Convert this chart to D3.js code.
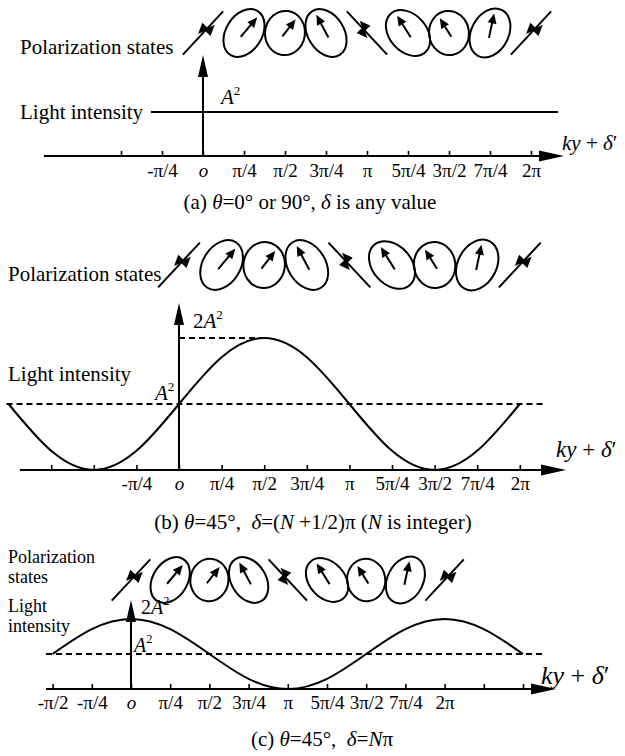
<!DOCTYPE html>
<html>
<head>
<meta charset="utf-8">
<script src="https://cdn.jsdelivr.net/npm/d3@7"></script>
<style>
body { margin: 0; background: #fff; }
text { font-family: "Liberation Serif", "Times New Roman", serif; fill: #000; white-space: pre; }
</style>
</head>
<body>
<div id="chart"></div>
<script>
// phases are in units of pi/4, intensities in units of A^2
var tickPhasesA = [-2, -1, 0, 1, 2, 3, 4, 5, 6, 7, 8];
var tickLabelsA = ["", "-π/4", "o", "π/4", "π/2", "3π/4", "π", "5π/4", "3π/2", "7π/4", "2π"];
var tickPhasesB = [-3, -2, -1, 0, 1, 2, 3, 4, 5, 6, 7, 8];
var tickLabelsB = ["", "", "-π/4", "o", "π/4", "π/2", "3π/4", "π", "5π/4", "3π/2", "7π/4", "2π"];
var tickPhasesC = [-2, -1, 0, 1, 2, 3, 4, 5, 6, 7, 8, 9, 10];
var tickLabelsC = ["-π/2", "-π/4", "o", "π/4", "π/2", "3π/4", "π", "5π/4", "3π/2", "7π/4", "2π", "", ""];

// (a) flat intensity
var flatPhasesA = [-1.27, 8.66];
var flatValuesA = [1, 1];
// (b) intensity
var curvePhasesB = [-4, -3, -2, -1, 0, 1, 2, 3, 4, 5, 6, 7, 8];
var curveValuesB = [1, 0.29, 0, 0.29, 1, 1.71, 2, 1.71, 1, 0.29, 0, 0.29, 1];
var refPhasesB = [-4.05, 8.6];
// (c)
var curvePhasesC = [-2, -1, 0, 1, 2, 3, 4, 5, 6, 7, 8, 9, 10];
var curveValuesC = [1, 1.71, 2, 1.71, 1, 0.29, 0, 0.29, 1, 1.71, 2, 1.71, 1];
var refPhasesC = [-2.17, 10.5];

// polarization states drawn above each panel
var statePhases = [0, 1, 2, 3, 4, 5, 6, 7, 8];
var stateKinds  = ["lin", "ell", "ell", "ell", "lin", "ell", "ell", "ell", "lin"];
var stateTilts  = [47, 58, 82, 122, 133, 132, 98, 62, 47];   // degrees, major axis
var stateRatios = [0, 0.7, 0.9, 0.7, 0, 0.72, 0.9, 0.72, 0];
var stateArrows = [0, 50, 52, 118, 0, 122, 122, 78, 0];      // degrees

var W = 625, H = 756;
var svg = d3.select("#chart").append("svg")
  .attr("width", W).attr("height", H);
svg.append("rect").attr("width", W).attr("height", H).attr("fill", "#fff");

function head(g, x, y, ang, len, half) {
  var c = Math.cos(ang), s = Math.sin(ang);
  var bx = x - len * c, by = y - len * s;
  g.append("path")
    .attr("d", "M" + x + "," + y + "L" + (bx - half * s) + "," + (by + half * c) +
      "L" + (bx + half * s) + "," + (by - half * c) + "Z")
    .attr("fill", "#000");
}

// parts: [text, italic, sup]
function rich(g, x, y, parts, size, anchor) {
  var t = g.append("text").attr("x", x).attr("y", y)
    .style("font-size", size + "px")
    .attr("text-anchor", anchor || "start");
  parts.forEach(function(p) {
    var ts = t.append("tspan").text(p[0]);
    if (p[1]) ts.style("font-style", "italic");
    if (p[2]) ts.attr("dy", -0.45 * size).style("font-size", (size * 0.62) + "px");
  });
  return t;
}

function drawStates(g, x, cy, step) {
  statePhases.forEach(function(p, i) {
    var cx = x(p);
    var tilt = stateTilts[i] * Math.PI / 180;
    if (stateKinds[i] == "lin") {
      var L = step * 0.72;
      var dx = Math.cos(tilt), dy = -Math.sin(tilt);
      g.append("line")
        .attr("x1", cx - L * dx).attr("y1", cy - L * dy)
        .attr("x2", cx + L * dx).attr("y2", cy + L * dy)
        .attr("stroke", "#000").attr("stroke-width", 2);
      var ang = Math.atan2(dy, dx);
      var px = -dy, py = dx;
      head(g, cx + 14 * dx + 3 * px, cy + 14 * dy + 3 * py, ang, 11, 4.5);
      head(g, cx - 4 * dx - 3 * px, cy - 4 * dy - 3 * py, ang + Math.PI, 11, 4.5);
    } else {
      var r = stateRatios[i];
      var a = step * (r > 0.8 ? 0.54 : 0.63), b = a * r;
      g.append("ellipse")
        .attr("rx", a).attr("ry", b)
        .attr("transform", "translate(" + cx + "," + cy + ") rotate(" + (-stateTilts[i]) + ")")
        .attr("fill", "none").attr("stroke", "#000").attr("stroke-width", 2);
      var th = stateArrows[i] * Math.PI / 180;
      var phi = th - tilt;
      var rb = a * b / Math.sqrt(Math.pow(b * Math.cos(phi), 2) + Math.pow(a * Math.sin(phi), 2));
      var ux = Math.cos(th), uy = -Math.sin(th);
      var tx = cx + ux * rb * 0.8, ty = cy + uy * rb * 0.8;
      g.append("line")
        .attr("x1", cx - ux * rb * 0.2).attr("y1", cy - uy * rb * 0.2)
        .attr("x2", tx - ux * 5).attr("y2", ty - uy * 5)
        .attr("stroke", "#000").attr("stroke-width", 2);
      head(g, tx, ty, Math.atan2(uy, ux), 10, 4.5);
    }
  });
}

function drawAxis(g, x, axisY, left, right, phases, labels, pad) {
  g.append("line").attr("x1", left).attr("x2", right - 20)
    .attr("y1", axisY).attr("y2", axisY)
    .attr("stroke", "#000").attr("stroke-width", 2);
  head(g, right, axisY, 0, 25, 5.5);
  var ax = g.append("g").attr("transform", "translate(0," + axisY + ")")
    .call(d3.axisBottom(x).tickValues(phases)
      .tickFormat(function(d, i) { return labels[i]; })
      .tickSize(-5).tickPadding(pad));
  ax.select(".domain").remove();
  ax.selectAll(".tick line").attr("stroke", "#000").attr("stroke-width", 1.6);
  ax.selectAll(".tick text")
    .style("font-family", '"Liberation Serif", serif')
    .style("font-size", "19px").attr("fill", "#000")
    .style("font-style", function(d, i) { return labels[i] == "o" ? "italic" : "normal"; });
}

function drawVArrow(g, x0, axisY, tipY) {
  g.append("line").attr("x1", x0).attr("x2", x0)
    .attr("y1", axisY).attr("y2", tipY + 18)
    .attr("stroke", "#000").attr("stroke-width", 2);
  head(g, x0, tipY, -Math.PI / 2, 22, 5);
}

var kyParts = [["ky", true], [" + ", false], ["δ", true], ["′", false]];

// ---------- (a) ----------
var gA = svg.append("g");
var xA = d3.scaleLinear().domain([0, 8]).range([203, 203 + 8 * 41]);
var yA = d3.scaleLinear().domain([0, 1]).range([156, 112]);
drawStates(gA, xA, 33, 41);
rich(gA, 20, 54, [["Polarization states"]], 21);
drawVArrow(gA, xA(0), yA(0), 55);
gA.append("path")
  .attr("d", d3.line().x(function(d, i) { return xA(flatPhasesA[i]); })
    .y(function(d) { return yA(d); })(flatValuesA))
  .attr("fill", "none").attr("stroke", "#000").attr("stroke-width", 2);
rich(gA, 20, 119, [["Light intensity"]], 21);
rich(gA, 221, 104, [["A", true], ["2", false, true]], 21);
drawAxis(gA, xA, yA(0), 44, 564, tickPhasesA, tickLabelsA, 8);
rich(gA, 562, 150, kyParts, 21);
rich(gA, 310, 209, [["(a) "], ["θ", true], ["=0° or 90°, "], ["δ", true], [" is any value"]], 21, "middle");

// ---------- (b) ----------
var gB = svg.append("g");
var xB = d3.scaleLinear().domain([0, 8]).range([179, 179 + 8 * 42.6]);
var yB = d3.scaleLinear().domain([0, 2]).range([470, 338]);
drawStates(gB, xB, 265, 42.6);
rich(gB, 8, 281, [["Polarization states"]], 21);
drawVArrow(gB, xB(0), yB(0), 303);
gB.append("line").attr("x1", xB(refPhasesB[0])).attr("x2", xB(refPhasesB[1]))
  .attr("y1", yB(1)).attr("y2", yB(1))
  .attr("stroke", "#000").attr("stroke-width", 1.8).attr("stroke-dasharray", "6,4");
gB.append("line").attr("x1", xB(0)).attr("x2", xB(2))
  .attr("y1", yB(2)).attr("y2", yB(2))
  .attr("stroke", "#000").attr("stroke-width", 1.8).attr("stroke-dasharray", "6,4");
gB.append("path")
  .attr("d", d3.line().curve(d3.curveNatural)
    .x(function(d, i) { return xB(curvePhasesB[i]); })
    .y(function(d) { return yB(d); })(curveValuesB))
  .attr("fill", "none").attr("stroke", "#000").attr("stroke-width", 2);
rich(gB, 8, 381, [["Light intensity"]], 21);
rich(gB, 193, 328, [["2"], ["A", true], ["2", false, true]], 21);
rich(gB, 155, 400, [["A", true], ["2", false, true]], 21);
drawAxis(gB, xB, yB(0), 20, 566, tickPhasesB, tickLabelsB, 7);
rich(gB, 556, 457, kyParts, 23);
rich(gB, 313, 529, [["(b) "], ["θ", true], ["=45°,  "], ["δ", true], ["=("], ["N", true],
  [" +1/2)π ("], ["N", true], [" is integer)"]], 21, "middle");

// ---------- (c) ----------
var gC = svg.append("g");
var xC = d3.scaleLinear().domain([0, 8]).range([131, 131 + 8 * 39.2]);
var yC = d3.scaleLinear().domain([0, 2]).range([689, 619]);
drawStates(gC, xC, 580, 39.2);
rich(gC, 8, 563, [["Polarization"]], 18);
rich(gC, 8, 583, [["states"]], 18);
rich(gC, 8, 612, [["Light"]], 18);
rich(gC, 8, 632, [["intensity"]], 18);
gC.append("line").attr("x1", xC(refPhasesC[0])).attr("x2", xC(refPhasesC[1]))
  .attr("y1", yC(1)).attr("y2", yC(1))
  .attr("stroke", "#000").attr("stroke-width", 1.8).attr("stroke-dasharray", "6,4");
gC.append("path")
  .attr("d", d3.line().curve(d3.curveNatural)
    .x(function(d, i) { return xC(curvePhasesC[i]); })
    .y(function(d) { return yC(d); })(curveValuesC))
  .attr("fill", "none").attr("stroke", "#000").attr("stroke-width", 2);
drawVArrow(gC, xC(0), yC(0), 600);
rich(gC, 141, 614, [["2"], ["A", true], ["2", false, true]], 20);
rich(gC, 134, 652, [["A", true], ["2", false, true]], 20);
drawAxis(gC, xC, yC(0), 46, 556, tickPhasesC, tickLabelsC, 7);
rich(gC, 541, 684, kyParts, 26);
rich(gC, 322, 746, [["(c) "], ["θ", true], ["=45°,  "], ["δ", true], ["="], ["N", true], ["π"]], 21, "middle");
</script>
</body>
</html>
